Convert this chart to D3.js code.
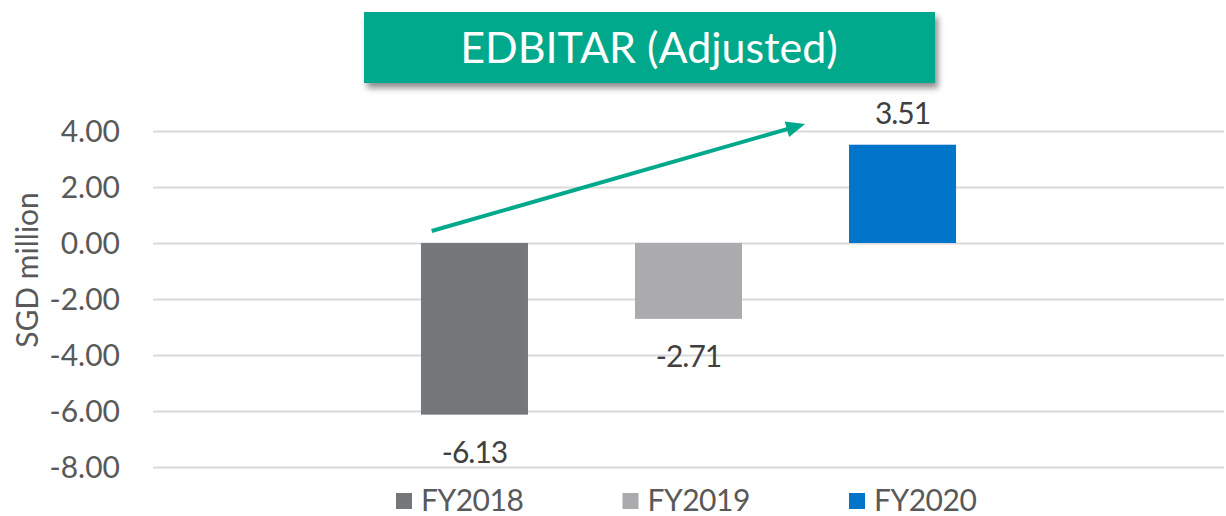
<!DOCTYPE html>
<html>
<head>
<meta charset="utf-8">
<script src="https://cdnjs.cloudflare.com/ajax/libs/d3/7.8.5/d3.min.js"></script>
<style>
	html, body { margin: 0; padding: 0; background: #fff; }
	svg { display: block; font-family: Lato, "Open Sans", sans-serif; }
</style>
</head>
<body>
<svg id="mainSVG" width="1226" height="516"></svg>
<script>
	var titleText = "EDBITAR (Adjusted)";
	var axisTitle = "SGD million";
	var categories = ["FY2018", "FY2019", "FY2020"];
	var values = [-6.13, -2.71, 3.51];
	var labels = ["-6.13", "-2.71", "3.51"];
	var colors = ["#75787b", "#ababad", "#0075c9"];
	var yTicks = [4, 2, 0, -2, -4, -6, -8];
	// trend arrow: [category, offset in band widths, value]
	var arrowFrom = ["FY2018", 0.1, 0.43];
	var arrowTo = ["FY2020", -0.41, 4.25];

	var f = {
		width: 1226, height: 516,
		left: 153, right: 1224, top: 131, bottom: 467
	};

	var svg = d3.select("#mainSVG");

	var x = d3.scaleBand()
		.domain(categories)
		.range([f.left, f.right])
		.paddingInner(0.5)
		.paddingOuter(1.252);

	var y = d3.scaleLinear()
		.domain([-8, 4])
		.range([f.bottom, f.top]);

	var defs = svg.append("defs");
	var shadow = defs.append("filter")
		.attr("id", "shadow")
		.attr("x", "-10%").attr("y", "-20%")
		.attr("width", "120%").attr("height", "160%");
	shadow.append("feDropShadow")
		.attr("dx", 3).attr("dy", 5)
		.attr("stdDeviation", 3)
		.attr("flood-color", "#000")
		.attr("flood-opacity", 0.45);

	// gridlines + tick labels (plain hyphen, like the original)
	var fmt = d3.format(".2f");
	var yAxis = d3.axisLeft(y)
		.tickValues(yTicks)
		.tickSize(-(f.right - f.left))
		.tickFormat(function(d) { return fmt(d).replace("\u2212", "-"); })
		.tickPadding(33);

	var gy = svg.append("g")
		.attr("transform", "translate(" + f.left + ",0)")
		.call(yAxis);
	gy.select(".domain").remove();
	gy.selectAll(".tick line")
		.attr("stroke", "#d9d9d9")
		.attr("stroke-width", 2);
	gy.selectAll(".tick text")
		.attr("fill", "#595959")
		.attr("font-size", 30)
		.attr("dy", "0.36em")
		.style("font-family", "Lato, sans-serif");

	svg.append("text")
		.attr("transform", "translate(38," + 270 + ") rotate(-90)")
		.attr("text-anchor", "middle")
		.attr("fill", "#595959")
		.attr("font-size", 30)
		.text(axisTitle);

	// bars
	svg.append("g").selectAll("rect")
		.data(values)
		.enter().append("rect")
		.attr("x", function(d, i) { return x(categories[i]); })
		.attr("width", x.bandwidth())
		.attr("y", function(d) { return y(Math.max(0, d)); })
		.attr("height", function(d) { return Math.abs(y(d) - y(0)); })
		.attr("fill", function(d, i) { return colors[i]; });

	svg.append("g").selectAll("text")
		.data(values)
		.enter().append("text")
		.attr("x", function(d, i) { return x(categories[i]) + x.bandwidth() / 2; })
		.attr("y", function(d) { return d >= 0 ? y(d) - 21 : y(d) + 48; })
		.attr("text-anchor", "middle")
		.attr("fill", "#404040")
		.attr("font-size", 30)
		.attr("letter-spacing", -1)
		.text(function(d, i) { return labels[i]; });

	// arrow
	var x1 = x(arrowFrom[0]) + arrowFrom[1] * x.bandwidth(), y1 = y(arrowFrom[2]);
	var x2 = x(arrowTo[0]) + arrowTo[1] * x.bandwidth(), y2 = y(arrowTo[2]);
	var ang = Math.atan2(y2 - y1, x2 - x1);
	var headLen = 19, headW = 8;
	var bx = x2 - headLen * Math.cos(ang), by = y2 - headLen * Math.sin(ang);

	svg.append("line")
		.attr("x1", x1).attr("y1", y1)
		.attr("x2", bx + 3 * Math.cos(ang)).attr("y2", by + 3 * Math.sin(ang))
		.attr("stroke", "#00a98c")
		.attr("stroke-width", 4);

	svg.append("path")
		.attr("d", d3.line()([
			[x2, y2],
			[bx - headW * Math.sin(ang), by + headW * Math.cos(ang)],
			[bx + headW * Math.sin(ang), by - headW * Math.cos(ang)]
		]) + "Z")
		.attr("fill", "#00a98c");

	// title box
	svg.append("rect")
		.attr("x", 364).attr("y", 12)
		.attr("width", 571).attr("height", 71)
		.attr("fill", "#00a98c")
		.attr("filter", "url(#shadow)");

	svg.append("text")
		.attr("x", 649).attr("y", 63)
		.attr("text-anchor", "middle")
		.attr("fill", "#fff")
		.attr("font-size", 43)
		.text(titleText);

	// legend
	var legend = svg.append("g").selectAll("g")
		.data(categories)
		.enter().append("g")
		.attr("transform", function(d, i) { return "translate(" + (396 + i * 226.5) + ",0)"; });

	legend.append("rect")
		.attr("x", 0).attr("y", 493)
		.attr("width", 16).attr("height", 16)
		.attr("fill", function(d, i) { return colors[i]; });

	legend.append("text")
		.attr("x", 25).attr("y", 511)
		.attr("fill", "#595959")
		.attr("font-size", 30)
		.attr("letter-spacing", -0.5)
		.text(function(d) { return d; });
</script>
</body>
</html>
